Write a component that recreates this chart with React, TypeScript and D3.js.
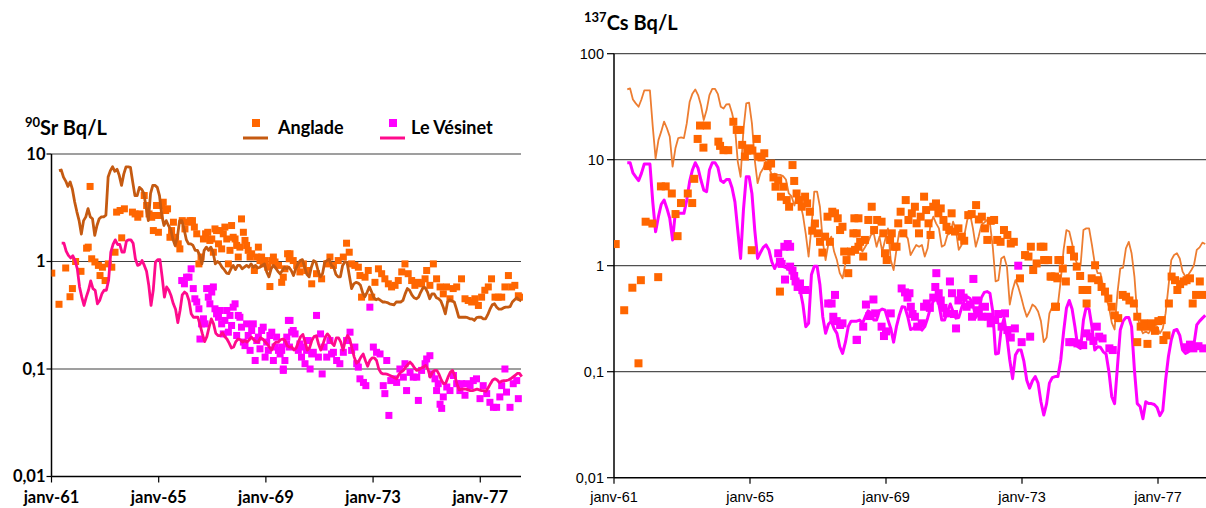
import React from "react";
import * as d3 from "d3";

// ---------- axes ----------
const yearTicks = [1961, 1965, 1969, 1973, 1977];
const yearLabels = ["janv-61", "janv-65", "janv-69", "janv-73", "janv-77"];
const srTicks = [0.01, 0.1, 1, 10];
const srTickLabels = ["0,01", "0,1", "1", "10"];
const csTicks = [0.01, 0.1, 1, 10, 100];
const csTickLabels = ["0,01", "0,1", "1", "10", "100"];
const seriesNames = ["Anglade", "Le Vésinet"];

// ---------- 90Sr, monthly lines ----------
const srAngladeLineStart = 1961.28;
const srAngladeLine = [
  7.0, 7.1, 6.1, 5.6, 5.0, 5.5, 4.7, 3.6, 2.9, 2.4,
  1.8, 2.4, 2.6, 3.1, 2.6, 2.5, 1.75, 2.16, 2.5, 2.6,
  2.6, 2.7, 6.1, 7.0, 7.6, 6.9, 7.2, 6.3, 5.1, 6.5,
  7.6, 7.6, 7.5, 5.5, 4.1, 4.1, 4.9, 4.7, 4.3, 3.2,
  2.4, 4.3, 5.1, 5.1, 4.9, 4.1, 2.7, 2.16, 2.4, 2.16,
  2.0, 1.62, 1.41, 1.68, 2.4, 2.4, 2.0, 1.6, 1.46, 1.46,
  1.41, 1.27, 1.27, 1.14, 0.95, 1.27, 1.36, 1.27, 1.36, 1.22,
  0.95, 1.0, 0.96, 0.885, 0.84, 0.78, 0.77, 0.855, 0.92, 0.84,
  0.92, 0.92, 0.855, 0.885, 0.92, 0.885, 0.95, 0.885, 0.92, 0.87,
  0.885, 0.92, 0.95, 0.8, 0.72, 0.855, 0.92, 0.87, 0.81, 0.77,
  0.825, 0.885, 0.855, 0.885,
  0.825, 0.74, 0.855, 0.95, 1.02, 1.04, 0.885, 0.76, 0.72, 0.885,
  1.02, 0.99, 0.825, 0.72, 0.77, 0.99, 1.02, 1.05, 0.92, 0.885,
  0.76, 0.72, 0.72, 0.92, 0.99, 0.98, 0.74, 0.56, 0.62, 0.64,
  0.63, 0.6, 0.51, 0.47, 0.52, 0.58, 0.52, 0.46, 0.44, 0.45,
  0.434, 0.42, 0.42, 0.415, 0.404, 0.4, 0.395, 0.42, 0.42, 0.42,
  0.434, 0.5, 0.56, 0.54, 0.49, 0.46, 0.45, 0.466, 0.52, 0.57,
  0.57, 0.52, 0.45, 0.5, 0.5, 0.46, 0.45, 0.43, 0.38, 0.326,
  0.42, 0.44, 0.43, 0.42, 0.36, 0.303, 0.303, 0.303, 0.303, 0.3,
  0.293, 0.293, 0.283, 0.3, 0.303, 0.303, 0.293, 0.293, 0.32, 0.36,
  0.395, 0.404, 0.376, 0.36, 0.36, 0.37, 0.376, 0.376, 0.38, 0.42,
  0.44, 0.46, 0.44, 0.43,
];
const srVesinetLineStart = 1961.38;
const srVesinetLine = [
  1.48, 1.48, 1.25, 1.14, 1.08, 1.13, 1.02, 0.855, 0.58, 0.466,
  0.39, 0.466, 0.54, 0.66, 0.56, 0.54, 0.404, 0.434, 0.5, 0.54,
  0.54, 0.665, 1.22, 1.44, 1.59, 1.44, 1.44, 1.22, 1.22, 1.55,
  1.59, 1.59, 1.48, 1.06, 0.92, 0.94, 1.02, 0.92, 0.81, 0.6,
  0.39, 0.54, 0.99, 1.04, 1.04, 0.715, 0.466, 0.58, 0.54, 0.48,
  0.404, 0.36, 0.27, 0.35, 0.49, 0.52, 0.5, 0.434, 0.326, 0.303,
  0.303, 0.303, 0.254, 0.212, 0.18, 0.2, 0.245, 0.293, 0.263, 0.215,
  0.205, 0.204, 0.218, 0.2, 0.19, 0.174, 0.157, 0.16, 0.18, 0.19,
  0.187, 0.178, 0.184, 0.178, 0.187, 0.198, 0.187, 0.18, 0.178, 0.195,
  0.19, 0.18, 0.171, 0.16, 0.15, 0.17, 0.178, 0.178, 0.187, 0.19,
  0.184, 0.165, 0.16,
  0.161, 0.15, 0.157, 0.178, 0.2, 0.21, 0.178, 0.15, 0.157, 0.184,
  0.2, 0.204, 0.171, 0.15, 0.17, 0.198, 0.212, 0.2, 0.174, 0.165,
  0.195, 0.195, 0.178, 0.15, 0.184, 0.205, 0.19, 0.155, 0.129, 0.113,
  0.118, 0.129, 0.138, 0.12, 0.106, 0.12, 0.127, 0.127, 0.12, 0.1,
  0.092, 0.09, 0.09, 0.089, 0.087, 0.085, 0.083, 0.081, 0.089, 0.094,
  0.097, 0.104, 0.11, 0.116, 0.11, 0.102, 0.097, 0.099, 0.102, 0.104,
  0.108, 0.1, 0.084, 0.093, 0.097, 0.097, 0.089, 0.079, 0.073, 0.074,
  0.084, 0.093, 0.097, 0.087, 0.073, 0.064, 0.065, 0.065, 0.065, 0.064,
  0.063, 0.063, 0.064, 0.065, 0.064, 0.063, 0.063, 0.062, 0.067, 0.073,
  0.079, 0.081, 0.079, 0.075, 0.077, 0.078, 0.078, 0.079, 0.081, 0.084,
  0.087, 0.091, 0.091, 0.085,
];

// ---------- 90Sr, measurements [year, Bq/L] ----------
const srAngladePoints: [number, number][] = [
  [1961.01, 0.78], [1961.28, 0.4], [1961.53, 0.87], [1961.69, 0.47], [1961.78, 0.56], [1961.9, 1.0],
  [1962.1, 0.81], [1962.31, 1.33], [1962.37, 1.36], [1962.44, 4.99], [1962.5, 1.06], [1962.62, 0.99],
  [1962.75, 0.92], [1962.81, 0.74], [1962.9, 0.885], [1963.0, 0.665], [1963.12, 0.95], [1963.25, 0.885],
  [1963.37, 1.22], [1963.43, 2.88], [1963.56, 2.98], [1963.62, 1.66], [1963.72, 3.09], [1964.02, 2.88],
  [1964.12, 2.77], [1964.22, 2.58], [1964.3, 2.77], [1964.46, 4.11], [1964.55, 3.32], [1964.64, 2.77],
  [1964.74, 2.58], [1964.8, 1.94], [1964.86, 2.68], [1964.92, 3.32], [1964.99, 1.87], [1965.05, 2.68],
  [1965.11, 3.32], [1965.17, 3.56], [1965.26, 2.98], [1965.33, 3.09], [1965.42, 1.68], [1965.48, 1.94],
  [1965.55, 2.32], [1965.63, 1.68], [1965.73, 1.46], [1965.79, 1.31], [1965.88, 2.4], [1965.98, 2.01],
  [1966.08, 2.32], [1966.17, 2.4], [1966.26, 2.4], [1966.33, 2.09], [1966.42, 1.81], [1966.5, 0.95],
  [1966.58, 1.1], [1966.67, 1.62], [1966.75, 1.81], [1966.83, 1.87], [1966.91, 1.57], [1966.98, 1.62],
  [1967.04, 1.22], [1967.1, 2.01], [1967.16, 1.94], [1967.23, 1.46], [1967.29, 1.94], [1967.35, 1.31],
  [1967.41, 1.81], [1967.47, 2.09], [1967.54, 1.62], [1967.6, 0.95], [1967.66, 1.27], [1967.72, 2.16],
  [1967.78, 1.68], [1967.85, 1.62], [1967.91, 1.41], [1967.97, 1.1], [1968.03, 1.36], [1968.09, 2.49],
  [1968.16, 1.87], [1968.22, 1.57], [1968.28, 1.41], [1968.34, 1.27], [1968.41, 1.1], [1968.47, 1.18],
  [1968.57, 0.825], [1968.66, 1.1], [1968.72, 1.36], [1968.78, 1.02], [1968.84, 1.1], [1968.9, 0.95],
  [1968.97, 1.02], [1969.07, 0.885], [1969.15, 0.585], [1969.22, 1.02], [1969.28, 1.1], [1969.34, 0.99],
  [1969.47, 0.92], [1969.59, 0.64], [1969.65, 0.715], [1969.71, 0.855], [1969.81, 1.18], [1969.87, 1.06],
  [1969.9, 1.18], [1970.02, 1.02], [1970.15, 0.92], [1970.27, 0.8], [1970.4, 0.95], [1970.52, 0.825],
  [1970.71, 0.62], [1970.89, 0.77], [1971.08, 0.69], [1971.27, 0.95], [1971.39, 1.1], [1971.52, 0.92],
  [1971.7, 1.02], [1971.89, 1.1], [1972.01, 1.48], [1972.11, 1.22], [1972.2, 0.95], [1972.32, 0.92],
  [1972.45, 0.885], [1972.51, 0.74], [1972.57, 0.466], [1972.7, 0.715], [1972.82, 0.825], [1972.95, 0.466],
  [1973.07, 0.64], [1973.2, 0.855], [1973.32, 0.77], [1973.44, 0.69], [1973.57, 0.62], [1973.69, 0.58],
  [1973.82, 0.6], [1973.94, 0.665], [1974.07, 0.8], [1974.19, 0.95], [1974.31, 0.77], [1974.44, 0.665],
  [1974.56, 0.6], [1974.69, 0.64], [1974.81, 0.62], [1974.94, 0.69], [1975.0, 0.825], [1975.12, 0.6],
  [1975.25, 0.95], [1975.37, 0.69], [1975.5, 0.58], [1975.62, 0.5], [1975.74, 0.58], [1975.87, 0.45],
  [1975.99, 0.56], [1976.12, 0.58], [1976.3, 0.69], [1976.43, 0.45], [1976.55, 0.434], [1976.68, 0.42],
  [1976.8, 0.45], [1976.93, 0.39], [1977.05, 0.466], [1977.17, 0.54], [1977.3, 0.58], [1977.42, 0.69],
  [1977.55, 0.466], [1977.67, 0.466], [1977.8, 0.466], [1977.92, 0.58], [1978.05, 0.74], [1978.17, 0.58],
  [1978.29, 0.6], [1978.42, 0.48], [1978.48, 0.466],
];
const srVesinetPoints: [number, number][] = [
  [1965.86, 0.665], [1965.96, 0.62], [1966.04, 0.715], [1966.13, 0.715], [1966.21, 0.855], [1966.29, 0.56],
  [1966.35, 0.45], [1966.42, 0.42], [1966.5, 0.363], [1966.54, 0.19], [1966.6, 0.263], [1966.67, 0.293],
  [1966.73, 0.263], [1966.79, 0.56], [1966.85, 0.466], [1966.91, 0.404], [1966.98, 0.52], [1967.04, 0.58],
  [1967.1, 0.363], [1967.16, 0.326], [1967.23, 0.303], [1967.29, 0.35], [1967.35, 0.263], [1967.41, 0.212],
  [1967.47, 0.283], [1967.54, 0.35], [1967.6, 0.22], [1967.66, 0.315], [1967.72, 0.254], [1967.78, 0.376],
  [1967.85, 0.404], [1967.91, 0.205], [1967.97, 0.315], [1968.03, 0.303], [1968.09, 0.245], [1968.16, 0.178],
  [1968.22, 0.165], [1968.28, 0.263], [1968.34, 0.205], [1968.41, 0.149], [1968.47, 0.228], [1968.53, 0.263],
  [1968.6, 0.12], [1968.66, 0.184], [1968.72, 0.198], [1968.78, 0.154], [1968.84, 0.228], [1968.9, 0.245],
  [1968.97, 0.129], [1969.03, 0.178], [1969.09, 0.149], [1969.15, 0.205], [1969.22, 0.22], [1969.28, 0.12],
  [1969.34, 0.16], [1969.4, 0.198], [1969.47, 0.149], [1969.53, 0.138], [1969.59, 0.16], [1969.65, 0.097],
  [1969.71, 0.12], [1969.78, 0.198], [1969.84, 0.283], [1969.88, 0.16], [1969.59, 0.149], [1969.65, 0.1],
  [1969.77, 0.171], [1969.9, 0.283], [1969.96, 0.22], [1970.02, 0.228], [1970.09, 0.212], [1970.21, 0.149],
  [1970.27, 0.171], [1970.33, 0.129], [1970.4, 0.16], [1970.46, 0.112], [1970.52, 0.149], [1970.58, 0.184],
  [1970.65, 0.1], [1970.71, 0.138], [1970.77, 0.143], [1970.89, 0.315], [1970.96, 0.129], [1971.04, 0.212],
  [1971.1, 0.09], [1971.17, 0.16], [1971.27, 0.129], [1971.39, 0.184], [1971.45, 0.138], [1971.52, 0.143],
  [1971.64, 0.12], [1971.76, 0.112], [1971.89, 0.143], [1972.01, 0.184], [1972.14, 0.22], [1972.2, 0.149],
  [1972.32, 0.16], [1972.39, 0.112], [1972.45, 0.104], [1972.51, 0.081], [1972.64, 0.075], [1972.73, 0.07],
  [1972.88, 0.376], [1973.01, 0.16], [1973.13, 0.143], [1973.26, 0.138], [1973.38, 0.07], [1973.44, 0.059],
  [1973.51, 0.12], [1973.59, 0.037], [1973.66, 0.078], [1973.76, 0.081], [1973.88, 0.075], [1974.0, 0.1],
  [1974.13, 0.084], [1974.19, 0.112], [1974.25, 0.063], [1974.38, 0.093], [1974.5, 0.084], [1974.63, 0.084],
  [1974.69, 0.051], [1974.81, 0.097], [1974.94, 0.112], [1975.0, 0.124], [1975.12, 0.133], [1975.19, 0.09],
  [1975.31, 0.081], [1975.37, 0.063], [1975.43, 0.073], [1975.5, 0.047], [1975.56, 0.043], [1975.62, 0.055],
  [1975.75, 0.068], [1975.87, 0.063], [1976.0, 0.087], [1976.12, 0.073], [1976.24, 0.063], [1976.3, 0.073],
  [1976.43, 0.057], [1976.49, 0.073], [1976.62, 0.07], [1976.74, 0.078], [1976.86, 0.081], [1976.99, 0.053],
  [1977.11, 0.07], [1977.24, 0.059], [1977.36, 0.049], [1977.49, 0.044], [1977.61, 0.044], [1977.73, 0.055],
  [1977.8, 0.07], [1977.92, 0.1], [1977.98, 0.061], [1978.11, 0.044], [1978.23, 0.073], [1978.36, 0.078],
  [1978.42, 0.053],
];

// ---------- 137Cs, monthly lines ----------
const csAngladeLineStart = 1961.39;
const csAngladeLine = [
  46, 47, 37, 34, 31.6, 37, 45, 45, 45, 20.5,
  10.3, 15.3, 18.5, 22.9, 19.8, 16.5, 8.6, 12.8, 16, 16.2,
  16, 22, 35, 42, 46, 40.7, 32.8, 23.7, 29.4, 40.7,
  46.5, 46.5, 41.5, 31.6, 30.4, 33.3, 33.5, 27.4, 20.5, 9.6,
  6.9, 19.1, 34, 34.5, 22, 9.9, 6, 7.5, 8.3, 9.7,
  8.5, 7.2, 7.4, 7.2, 7.2, 7, 6.5, 4.8, 4.5, 3.7,
  4.8, 3.9, 3, 2, 1.22, 2.3, 5, 5, 3.6, 1.7,
  1.13, 1.62, 1.88, 1.36, 1.13, 0.85, 0.76, 1.05, 1.22, 1.31,
  1.36, 1.41, 1.51,
  1.36, 1.51, 1.68, 1.95, 2.02, 1.51, 1.88, 1.36, 1.75, 2.25,
  1.13, 0.91, 1.41, 2.1, 2.02, 1.95, 1.81, 1.26, 1.41, 1.57,
  1.51, 1.57, 1.22, 1.46, 2.42, 2.9, 2.51, 2.25, 1.51, 1.57,
  1.95, 2.02, 2.6, 2.17, 1.41, 1.57, 1.95, 2.7, 3.07, 2.25,
  1.51, 1.88, 2.42, 2.55, 2.7, 2.51, 1.51, 0.71, 0.73, 1.17,
  1.22, 0.98, 0.43, 0.59, 0.73, 0.63, 0.51, 0.4, 0.33, 0.37,
  0.43, 0.41, 0.37, 0.3, 0.19, 0.21, 0.355, 0.41, 0.43, 0.43,
  0.73, 1.41, 2.17, 2.1, 1.62, 1.17, 1.01, 1.01, 2.17, 2.25,
  2.25, 1.57, 1.05, 0.85, 0.85, 0.63, 0.49, 0.41, 0.29, 0.25,
  0.55, 0.94, 0.96, 1.46, 1.68, 1.31, 0.79, 0.34, 0.266, 0.23,
  0.24, 0.23, 0.255, 0.275, 0.266, 0.23, 0.255, 0.355, 0.63, 1.13,
  1.26, 1.31, 1.17, 0.88, 0.79, 0.82, 0.9, 1.01, 1.41, 1.49,
  1.65, 1.6,
];
const csVesinetLineStart = 1961.39;
const csVesinetLine = [
  9.37, 9.37, 7.5, 6.9, 6.35, 7.43, 9.1, 9.1, 9.1, 4.0,
  2.09, 2.9, 3.8, 4.16, 3.47, 2.8, 1.75, 3.23, 3.12, 3.12,
  3.12, 4.16, 6.2, 8, 9.37, 8.3, 6.43, 5.17, 5, 8,
  9.37, 9.37, 8.45, 6.35, 6.1, 6.5, 6.5, 5.4, 4, 2.17,
  1.17, 3.35, 6.9, 6.9, 4.8, 2.17, 1.17, 1.33, 1.49, 1.57,
  1.41, 1.09, 0.94, 1.07, 1.05, 0.98, 0.96, 0.92, 0.88, 0.82,
  0.71, 0.59, 0.43, 0.266, 0.286, 0.82, 0.99, 0.99, 0.66, 0.33,
  0.23, 0.28, 0.3, 0.255, 0.23, 0.172, 0.149, 0.19, 0.266, 0.3,
  0.3, 0.3, 0.307,
  0.286, 0.33, 0.375, 0.36, 0.307, 0.307, 0.375, 0.39, 0.38, 0.31,
  0.256, 0.19, 0.266, 0.34, 0.41, 0.405, 0.33, 0.25, 0.256, 0.28,
  0.275, 0.247, 0.266, 0.32, 0.4, 0.46, 0.51, 0.43, 0.307, 0.307,
  0.37, 0.435, 0.37, 0.32, 0.325, 0.4, 0.47, 0.51, 0.49, 0.43,
  0.325, 0.355, 0.5, 0.56, 0.57, 0.55, 0.37, 0.147, 0.149, 0.256,
  0.32, 0.214, 0.129, 0.086, 0.144, 0.16, 0.16, 0.125, 0.083, 0.07,
  0.082, 0.09, 0.078, 0.052, 0.039, 0.05, 0.078, 0.088, 0.09, 0.09,
  0.129, 0.238, 0.396, 0.47, 0.39, 0.266, 0.172, 0.166, 0.307, 0.41,
  0.39, 0.266, 0.16, 0.172, 0.17, 0.154, 0.147, 0.1, 0.058, 0.05,
  0.111, 0.247, 0.3, 0.325, 0.325, 0.266, 0.104, 0.05, 0.047, 0.036,
  0.052, 0.05, 0.05, 0.049, 0.046, 0.0385, 0.043, 0.083, 0.139, 0.199,
  0.245, 0.25, 0.22, 0.16, 0.149, 0.154, 0.162, 0.18, 0.276, 0.3,
  0.32, 0.34,
];

// ---------- 137Cs, measurements [year, Bq/L] ----------
const csAngladePoints: [number, number][] = [
  [1961.05, 1.6], [1961.3, 0.38], [1961.54, 0.62], [1961.79, 0.73], [1961.72, 0.12], [1961.93, 2.6],
  [1962.13, 2.5], [1962.3, 0.78], [1962.38, 5.6], [1962.52, 5.6], [1962.7, 4.8], [1962.81, 3.07],
  [1962.87, 1.9], [1962.97, 3.9], [1963.17, 4.8], [1963.3, 3.9], [1963.36, 6.6], [1963.46, 15.7],
  [1963.53, 21], [1963.63, 13], [1963.73, 21], [1964.07, 14.8], [1964.12, 13.5], [1964.22, 12.3],
  [1964.36, 12.3], [1964.51, 22.8], [1964.61, 19.1], [1964.71, 19.1], [1964.77, 13.8], [1964.85, 10.7],
  [1964.92, 12.2], [1965.0, 12.8], [1965.07, 12.2], [1965.2, 15.7], [1965.05, 1.4], [1965.26, 10.7],
  [1965.34, 10.5], [1965.42, 11.5], [1965.52, 8.7], [1965.62, 9.2], [1965.69, 6.8], [1965.75, 5.56],
  [1965.83, 6.4], [1965.88, 0.57], [1965.91, 4.48], [1965.98, 5.56], [1966.08, 4.16], [1966.15, 3.6],
  [1966.25, 8.9], [1966.3, 6.3], [1966.37, 4.8], [1966.44, 4.16], [1966.52, 3.6], [1966.62, 4.48],
  [1966.68, 3.87], [1966.76, 3.23], [1966.83, 2.14], [1966.91, 2.5], [1966.99, 2.02], [1967.06, 1.68],
  [1967.13, 1.33], [1967.21, 1.88], [1967.28, 2.9], [1967.35, 1.68], [1967.42, 3.23], [1967.5, 3.12],
  [1967.58, 2.8], [1967.65, 2.17], [1967.72, 2.33], [1967.77, 1.36], [1967.84, 1.13], [1967.89, 0.85],
  [1967.97, 1.36], [1968.07, 2.8], [1968.14, 2.02], [1968.19, 1.51],
  [1968.04, 2.02], [1968.09, 1.41], [1968.19, 2.8], [1968.24, 1.68], [1968.33, 1.22], [1968.38, 1.75],
  [1968.48, 2.7], [1968.58, 3.6], [1968.65, 2.17], [1968.74, 2.7], [1968.87, 2.6], [1968.92, 2.02],
  [1968.97, 1.31], [1969.02, 1.13], [1969.12, 1.75], [1969.17, 2.02], [1969.24, 1.51], [1969.31, 1.51],
  [1969.36, 2.51], [1969.43, 3.23], [1969.51, 2.02], [1969.58, 4.16], [1969.66, 2.7], [1969.76, 3.12],
  [1969.85, 3.6], [1969.9, 2.51], [1969.97, 2.02], [1970.02, 2.9], [1970.12, 4.48], [1970.18, 3.35],
  [1970.25, 2.51], [1970.31, 1.95], [1970.39, 3.6], [1970.47, 3.87], [1970.54, 3.12], [1970.61, 3.47],
  [1970.69, 2.7], [1970.78, 2.33], [1970.86, 2.17], [1970.93, 3.12], [1971.03, 2.1], [1971.13, 2.25],
  [1971.23, 1.88], [1971.3, 1.72], [1971.42, 3.0], [1971.52, 3.07], [1971.65, 3.73], [1971.73, 2.73],
  [1971.82, 2.9], [1971.91, 2.25], [1971.98, 1.75], [1972.08, 2.65], [1972.18, 2.7], [1972.27, 1.75],
  [1972.37, 1.68], [1972.47, 2.17], [1972.57, 1.95], [1972.67, 1.62], [1972.76, 1.68], [1972.94, 0.76],
  [1973.09, 1.26], [1973.19, 1.22], [1973.26, 1.51], [1973.33, 0.91], [1973.43, 1.05], [1973.55, 1.51],
  [1973.65, 1.13], [1973.77, 1.13], [1973.87, 0.79], [1974.0, 0.41], [1974.07, 1.13],
  [1973.63, 1.51], [1973.68, 1.13], [1973.84, 0.79], [1973.97, 0.79], [1974.04, 0.76], [1974.12, 1.13],
  [1974.2, 0.94], [1974.29, 0.71], [1973.97, 0.41], [1974.43, 1.41], [1974.53, 1.22], [1974.61, 0.98],
  [1974.71, 0.8], [1974.78, 0.59], [1974.92, 0.59], [1974.9, 0.44], [1975.05, 0.76], [1975.15, 1.01],
  [1975.24, 0.73], [1975.34, 0.63], [1975.44, 0.57], [1975.54, 0.49], [1975.64, 0.41], [1975.73, 0.34],
  [1975.83, 0.32], [1975.96, 0.53], [1976.06, 0.51], [1976.16, 0.47], [1976.29, 0.44], [1976.39, 0.33],
  [1976.39, 0.19], [1976.49, 0.266], [1976.59, 0.286], [1976.69, 0.266], [1976.69, 0.183], [1976.81, 0.286],
  [1976.91, 0.243], [1977.01, 0.3], [1977.11, 0.307], [1977.16, 0.199], [1977.25, 0.22], [1977.32, 0.44],
  [1977.4, 0.79], [1977.5, 0.73], [1977.57, 0.59], [1977.65, 0.67], [1977.75, 0.71], [1977.84, 0.73],
  [1977.94, 0.76], [1978.02, 0.44], [1978.12, 0.53], [1978.23, 0.71], [1978.35, 0.53],
];
const csVesinetPoints: [number, number][] = [
  [1965.83, 1.31], [1965.88, 1.09], [1965.93, 1.04], [1966.01, 1.51], [1966.11, 1.6], [1966.18, 1.51],
  [1966.03, 0.74], [1966.18, 0.98], [1966.25, 0.9], [1966.3, 0.8], [1966.34, 0.71], [1966.4, 0.63],
  [1966.47, 0.68], [1966.54, 0.59], [1966.62, 0.59], [1967.3, 0.44], [1967.4, 0.44], [1967.5, 0.53],
  [1967.45, 0.33], [1967.55, 0.3], [1967.65, 0.276], [1967.72, 0.286], [1968.14, 0.199],
  [1968.14, 0.2], [1968.33, 0.266], [1968.41, 0.43], [1968.63, 0.48], [1968.51, 0.335], [1968.68, 0.355],
  [1968.87, 0.266], [1968.94, 0.217], [1969.0, 0.24], [1969.14, 0.355], [1969.46, 0.61], [1969.56, 0.56],
  [1969.63, 0.5], [1969.69, 0.55], [1969.73, 0.41], [1969.78, 0.35], [1969.85, 0.33], [1969.92, 0.266],
  [1970.05, 0.286], [1970.12, 0.41], [1970.2, 0.44], [1970.29, 0.4], [1970.39, 0.5], [1970.45, 0.63],
  [1970.48, 0.85], [1970.55, 0.55], [1970.61, 0.47], [1970.69, 0.4], [1970.78, 0.355], [1970.88, 0.71],
  [1970.94, 0.55], [1971.0, 0.35], [1971.06, 0.256], [1971.13, 0.47], [1971.2, 0.55], [1971.28, 0.5],
  [1971.37, 0.41], [1971.47, 0.43], [1971.53, 0.33], [1971.57, 0.75], [1971.65, 0.47], [1971.73, 0.38],
  [1971.81, 0.33], [1971.91, 0.41], [1972.01, 0.33], [1972.08, 0.286], [1972.21, 0.307], [1972.3, 0.35],
  [1972.4, 0.266], [1972.5, 0.355], [1972.57, 0.247], [1972.67, 0.21], [1972.79, 0.256], [1972.89, 1.0],
  [1972.99, 0.19], [1973.24, 0.214],
  [1974.39, 0.19], [1974.49, 0.19], [1974.63, 0.185], [1974.8, 0.178], [1974.9, 0.23], [1975.0, 0.214],
  [1975.1, 0.195], [1975.2, 0.266], [1975.27, 0.214], [1975.37, 0.206], [1975.57, 0.166], [1975.67, 0.16],
  [1977.84, 0.17], [1977.94, 0.18], [1978.04, 0.166], [1978.19, 0.174], [1978.33, 0.166],
];

const monthly = (start: number, vals: number[]): [number, number][] =>
  vals.map((v, i) => [start + i / 12, v]);

const ORANGE = "#FF6600";
const BROWN = "#C55A11";
const MAGENTA = "#FF00FF";
const PINK = "#FF0A8C";
const LIGHT_ORANGE = "#ED7D31";
const CAL = "Lato, 'Open Sans', sans-serif";
const ARIAL = "'Liberation Sans', Arial, sans-serif";

export default function App() {
  const W = 1206;
  const H = 508;

  // left chart (90Sr)
  const xL = d3.scaleLinear().domain([1961, 1978.52]).range([51.5, 521]);
  const yL = d3.scaleLog().domain([0.01, 10]).range([476.5, 154]);
  // right chart (137Cs)
  const xR = d3.scaleLinear().domain([1961, 1979]).range([614, 1226]);
  const yR = d3.scaleLog().domain([0.01, 100]).range([477.7, 53.7]);

  const lineL = d3
    .line<[number, number]>()
    .x((d) => xL(d[0]))
    .y((d) => yL(d[1]));
  const lineR = d3
    .line<[number, number]>()
    .x((d) => xR(d[0]))
    .y((d) => yR(d[1]));

  const sqL = 7;
  const sqR = 8;

  return (
    <div style={{ position: "absolute", left: 0, top: 0 }}>
      <svg width={W} height={H} style={{ display: "block", background: "#fff" }}>
        <defs>
          <clipPath id="clipL">
            <rect x={xL(1961)} y={150} width={xL(1978.52) - xL(1961) + 2} height={330} />
          </clipPath>
          <clipPath id="clipR">
            <rect x={xR(1961)} y={50} width={W - xR(1961)} height={430} />
          </clipPath>
        </defs>

        {/* ================= LEFT CHART ================= */}
        {srTicks.slice(1).map((t) => (
          <line key={"gl" + t} x1={xL(1961)} x2={xL(1978.52)} y1={yL(t)} y2={yL(t)} stroke="#404040" strokeWidth={1.2} />
        ))}
        {/* axes */}
        <line x1={xL(1961)} x2={xL(1961)} y1={yL(10)} y2={yL(0.01)} stroke="#000" strokeWidth={1.5} />
        <line x1={xL(1961)} x2={xL(1978.52)} y1={yL(0.01)} y2={yL(0.01)} stroke="#000" strokeWidth={1.5} />
        {srTicks.map((t, i) => (
          <g key={"yl" + t}>
            <line x1={xL(1961) - 5} x2={xL(1961)} y1={yL(t)} y2={yL(t)} stroke="#000" strokeWidth={1.2} />
            <text x={xL(1961) - 6} y={yL(t)} dy="0.35em" textAnchor="end" fontFamily={CAL} fontWeight="bold" fontSize={16.5} fill="#000">
              {srTickLabels[i]}
            </text>
          </g>
        ))}
        {yearTicks.map((yr, i) => (
          <g key={"xl" + yr}>
            <line x1={xL(yr)} x2={xL(yr)} y1={yL(0.01)} y2={yL(0.01) + 6} stroke="#000" strokeWidth={1.2} />
            <text x={xL(yr)} y={503} textAnchor="middle" fontFamily={CAL} fontWeight="bold" fontSize={16.5} fill="#000">
              {yearLabels[i]}
            </text>
          </g>
        ))}

        <g clipPath="url(#clipL)">
          {srAngladePoints.map((d, i) => (
            <rect key={"sa" + i} x={xL(d[0]) - sqL / 2} y={yL(d[1]) - sqL / 2} width={sqL} height={sqL} fill={ORANGE} />
          ))}
          {srVesinetPoints.map((d, i) => (
            <rect key={"sv" + i} x={xL(d[0]) - sqL / 2} y={yL(d[1]) - sqL / 2} width={sqL} height={sqL} fill={MAGENTA} />
          ))}
          <path d={lineL(monthly(srAngladeLineStart, srAngladeLine)) || ""} fill="none" stroke={BROWN} strokeWidth={2.8} strokeLinejoin="round" />
          <path d={lineL(monthly(srVesinetLineStart, srVesinetLine)) || ""} fill="none" stroke={PINK} strokeWidth={2.8} strokeLinejoin="round" />
        </g>

        {/* title */}
        <text x={25} y={135} fontFamily={CAL} fontWeight="bold" fontSize={20} fill="#000">
          <tspan fontSize={13} dy={-8}>90</tspan>
          <tspan dy={8}>Sr Bq/L</tspan>
        </text>

        {/* legend */}
        <rect x={256 - 4} y={123 - 4} width={8} height={8} fill={ORANGE} />
        <line x1={243} x2={268} y1={138} y2={138} stroke={BROWN} strokeWidth={3} />
        <text x={278} y={134} fontFamily={CAL} fontWeight="bold" fontSize={18} fill="#000">{seriesNames[0]}</text>
        <rect x={393 - 4} y={123 - 4} width={8} height={8} fill={MAGENTA} />
        <line x1={380} x2={405} y1={138} y2={138} stroke={PINK} strokeWidth={3} />
        <text x={411} y={134} fontFamily={CAL} fontWeight="bold" fontSize={18} fill="#000">{seriesNames[1]}</text>

        {/* ================= RIGHT CHART ================= */}
        {csTicks.slice(1).map((t) => (
          <line key={"gr" + t} x1={xR(1961)} x2={W} y1={yR(t)} y2={yR(t)} stroke="#505050" strokeWidth={1.3} />
        ))}
        <line x1={xR(1961)} x2={xR(1961)} y1={yR(100)} y2={yR(0.01)} stroke="#000" strokeWidth={1.5} />
        <line x1={xR(1961)} x2={W} y1={yR(0.01)} y2={yR(0.01)} stroke="#000" strokeWidth={1.5} />
        {csTicks.map((t, i) => (
          <g key={"yr" + t}>
            <line x1={xR(1961) - 7} x2={xR(1961)} y1={yR(t)} y2={yR(t)} stroke="#000" strokeWidth={1.2} />
            <text x={xR(1961) - 10} y={yR(t)} dy="0.35em" textAnchor="end" fontFamily={ARIAL} fontSize={14.5} fill="#000">
              {csTickLabels[i]}
            </text>
          </g>
        ))}
        {yearTicks.map((yr, i) => (
          <g key={"xr" + yr}>
            <line x1={xR(yr)} x2={xR(yr)} y1={yR(0.01)} y2={yR(0.01) + 6} stroke="#000" strokeWidth={1.2} />
            <text x={xR(yr)} y={502} textAnchor="middle" fontFamily={ARIAL} fontSize={14.5} fill="#000">
              {yearLabels[i]}
            </text>
          </g>
        ))}

        <g clipPath="url(#clipR)">
          <path d={lineR(monthly(csAngladeLineStart, csAngladeLine)) || ""} fill="none" stroke={LIGHT_ORANGE} strokeWidth={1.8} strokeLinejoin="round" />
          <path d={lineR(monthly(csVesinetLineStart, csVesinetLine)) || ""} fill="none" stroke={MAGENTA} strokeWidth={3} strokeLinejoin="round" />
          {csAngladePoints.map((d, i) => (
            <rect key={"ca" + i} x={xR(d[0]) - sqR / 2} y={yR(d[1]) - sqR / 2} width={sqR} height={sqR} fill={ORANGE} />
          ))}
          {csVesinetPoints.map((d, i) => (
            <rect key={"cv" + i} x={xR(d[0]) - sqR / 2} y={yR(d[1]) - sqR / 2} width={sqR} height={sqR} fill={MAGENTA} />
          ))}
        </g>

        <text x={584} y={30} fontFamily={CAL} fontWeight="bold" fontSize={20} fill="#000">
          <tspan fontSize={13} dy={-8}>137</tspan>
          <tspan dy={8}>Cs Bq/L</tspan>
        </text>
      </svg>
    </div>
  );
}
